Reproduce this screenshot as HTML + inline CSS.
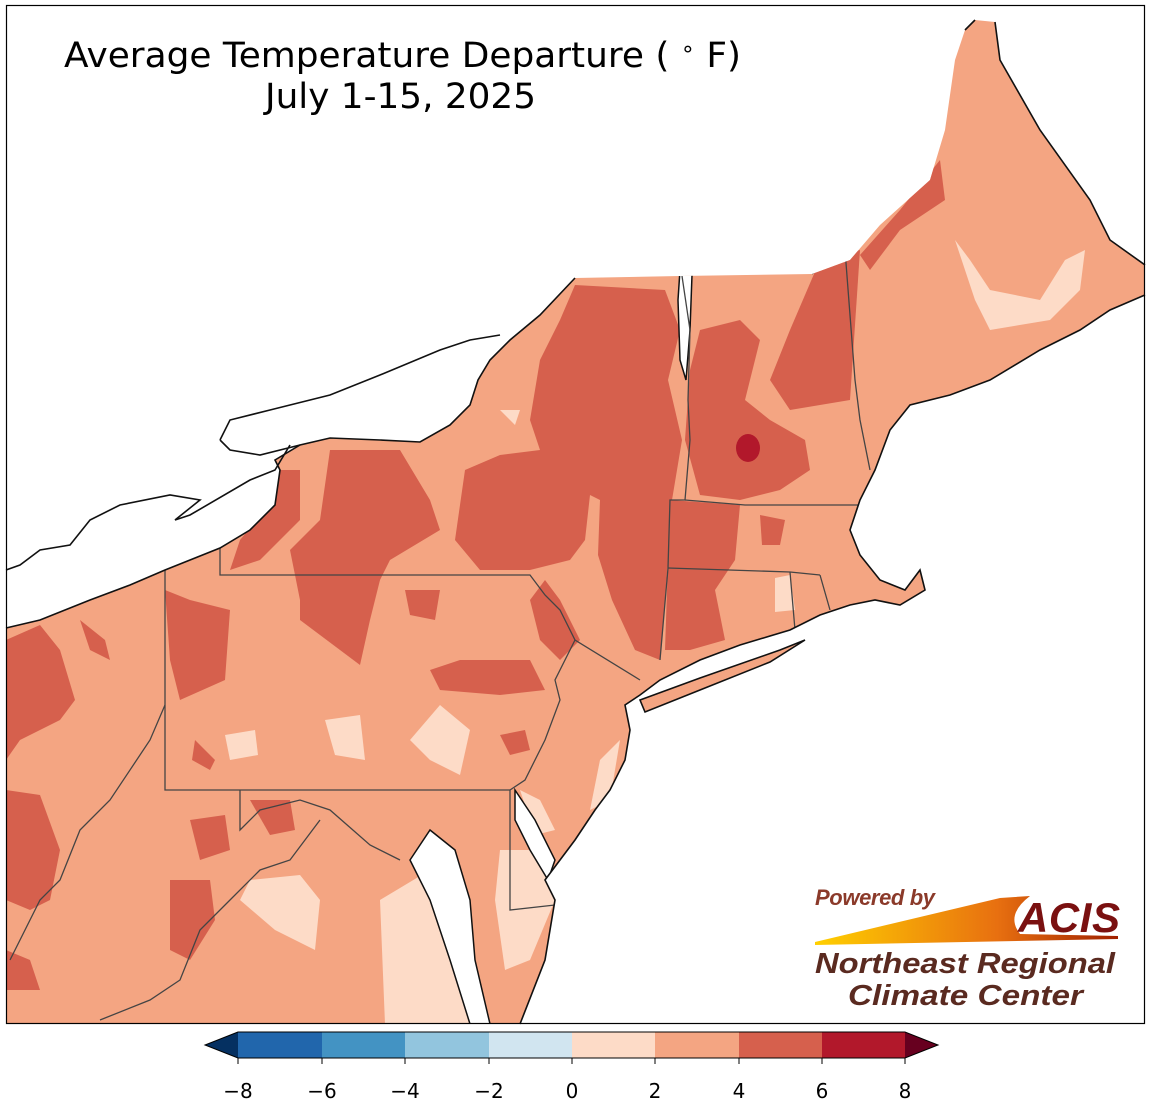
<!DOCTYPE html>
<html><head><meta charset="utf-8"><style>
body{margin:0;background:#fff;width:1151px;height:1111px;overflow:hidden}
svg{display:block}
</style></head><body>
<svg width="1151" height="1111" viewBox="0 0 1151 1111" xmlns="http://www.w3.org/2000/svg">
<defs>
<clipPath id="land"><path d="M6,628 L40,620 L90,600 L130,585 L165,570 L220,548 L250,530 L275,505 L280,470 L275,460 L300,445 L330,438 L380,440 L420,442 L450,425 L470,405 L478,380 L490,360 L510,340 L540,315 L575,278 L680,276 L812,274 L850,260 L880,225 L930,180 L945,130 L955,60 L965,30 L975,20 L995,22 L1000,60 L1040,130 L1090,200 L1110,240 L1145,265 L1145,295 L1110,310 L1080,330 L1040,350 L990,380 L950,395 L910,405 L890,430 L875,470 L860,500 L850,530 L860,555 L880,580 L905,590 L920,570 L925,590 L900,605 L875,600 L850,605 L820,615 L790,630 L740,645 L700,660 L660,680 L640,695 L625,705 L630,730 L625,760 L610,790 L595,810 L575,840 L560,860 L545,880 L555,900 L545,960 L520,1024 L6,1024 Z M640,700 L700,678 L780,650 L805,640 L770,662 L700,690 L645,712 Z"/></clipPath>
<linearGradient id="g" x1="0" x2="1"><stop offset="0" stop-color="#ffd000"/><stop offset="0.6" stop-color="#e87010"/><stop offset="1" stop-color="#a02000"/></linearGradient>
</defs>
<g clip-path="url(#land)">
<rect x="0" y="0" width="1151" height="1111" fill="#f4a582"/>
<g fill="#d6604d">
<path d="M575,285 L665,290 L680,330 L668,380 L682,440 L672,500 L668,560 L660,660 L635,650 L612,600 L598,555 L600,500 L590,495 L585,540 L570,560 L530,570 L480,570 L455,540 L465,470 L500,455 L540,450 L530,420 L540,360 L560,320 Z"/>
<path d="M700,330 L740,320 L760,340 L745,400 L770,420 L805,440 L810,470 L780,490 L740,500 L700,495 L685,440 L690,370 Z"/>
<path d="M790,330 L820,260 L860,250 L850,400 L790,410 L770,380 Z"/>
<path d="M860,255 L900,210 L940,160 L945,200 L900,230 L870,270 Z"/>
<path d="M670,500 L740,505 L735,560 L715,590 L725,640 L690,650 L665,650 L668,560 Z"/>
<path d="M330,450 L400,450 L430,500 L440,530 L390,560 L370,600 L330,610 L300,600 L290,550 L320,520 Z"/>
<path d="M270,470 L300,470 L300,520 L260,560 L230,570 L240,540 L265,510 Z"/>
<path d="M300,580 L380,580 L370,620 L360,665 L340,650 L300,620 Z"/>
<path d="M430,670 L460,660 L530,660 L545,690 L500,695 L440,690 Z"/>
<path d="M545,580 L560,600 L580,640 L560,660 L540,640 L530,600 Z"/>
<path d="M165,590 L190,600 L230,610 L225,680 L180,700 L170,660 Z"/>
<path d="M6,640 L40,625 L60,650 L75,700 L60,720 L20,740 L6,760 Z"/>
<path d="M80,620 L105,640 L110,660 L90,650 Z"/>
<path d="M6,790 L40,795 L60,850 L50,900 L30,910 L6,900 Z"/>
<path d="M190,820 L225,815 L230,850 L200,860 Z"/>
<path d="M250,800 L290,800 L295,830 L270,835 Z"/>
<path d="M170,880 L210,880 L215,920 L190,960 L170,950 Z"/>
<path d="M6,950 L30,960 L40,990 L6,990 Z"/>
<path d="M195,740 L215,760 L210,770 L192,760 Z"/>
<path d="M500,735 L525,730 L530,750 L510,755 Z"/>
<path d="M405,590 L440,590 L435,620 L410,615 Z"/>
<path d="M760,515 L785,520 L780,545 L762,545 Z"/>
</g>
<ellipse cx="748" cy="448" rx="12" ry="14" fill="#b2182b"/>
<g fill="#fddbc7">
<path d="M955,240 L970,260 L990,290 L1040,300 L1065,260 L1085,250 L1080,290 L1050,320 L990,330 L975,300 Z"/>
<path d="M380,900 L430,870 L440,900 L470,960 L480,1024 L385,1024 Z"/>
<path d="M500,850 L545,850 L555,900 L530,960 L505,970 L495,900 Z"/>
<path d="M250,880 L300,875 L320,900 L315,950 L275,930 L240,900 Z"/>
<path d="M325,720 L360,715 L365,760 L335,755 Z"/>
<path d="M410,740 L440,705 L470,730 L460,775 L430,760 Z"/>
<path d="M225,735 L255,730 L258,755 L230,760 Z"/>
<path d="M500,410 L520,410 L515,425 Z"/>
<path d="M600,760 L620,740 L610,800 L590,810 Z"/>
<path d="M775,578 L790,575 L795,610 L775,612 Z"/>
<path d="M520,790 L540,800 L555,830 L535,835 Z"/>
</g>
<g fill="#fff" stroke="#111" stroke-width="1.5">
<path d="M430,830 L455,850 L470,900 L475,960 L490,1024 L470,1024 L450,960 L430,900 L410,860 Z"/>
<path d="M515,790 L535,820 L555,860 L548,880 L530,850 L515,820 Z"/>
<path d="M680,270 L692,275 L690,330 L686,380 L680,360 L678,300 Z"/>
</g>
<g fill="none" stroke="#444" stroke-width="1.3">
<path d="M220,548 L220,575 L530,575 L545,595 L560,610 L575,640 L640,680"/>
<path d="M575,640 L555,680 L560,700 L545,740 L525,780 L510,790"/>
<path d="M165,565 L165,790 L510,790 L510,910 L555,905"/>
<path d="M165,705 L150,740 L110,800 L80,830 L60,880 L40,900 L10,960"/>
<path d="M240,790 L240,830 L260,810 L300,800 L330,810 L370,845 L400,860"/>
<path d="M320,820 L290,860 L260,870 L230,900 L200,930 L180,980 L150,1000 L100,1020"/>
<path d="M682,276 L690,330 L688,400 L690,440 L685,500 L670,500 L668,568 L660,660"/>
<path d="M685,500 L745,505 L860,505"/>
<path d="M668,568 L790,572 L820,575"/>
<path d="M790,572 L795,630 M820,575 L830,610"/>
<path d="M812,274 L845,250 L855,380 L860,420 L870,470"/>
</g>
</g>
<path d="M6,628 L40,620 L90,600 L130,585 L165,570 L220,548 L250,530 L275,505 L280,470 L275,460 L300,445 L330,438 L380,440 L420,442 L450,425 L470,405 L478,380 L490,360 L510,340 L540,315 L575,278 M995,22 L1000,60 L1040,130 L1090,200 L1110,240 L1145,265 M1145,295 L1110,310 L1080,330 L1040,350 L990,380 L950,395 L910,405 L890,430 L875,470 L860,500 L850,530 L860,555 L880,580 L905,590 L920,570 L925,590 L900,605 L875,600 L850,605 L820,615 L790,630 L740,645 L700,660 L660,680 L640,695 L625,705 L630,730 L625,760 L610,790 L595,810 L575,840 L560,860 L545,880 L555,900 L545,960 L520,1024 M640,700 L700,678 L780,650 L805,640 L770,662 L700,690 L645,712 Z" fill="none" stroke="#111" stroke-width="1.6"/>
<path d="M6,570 L20,565 L40,550 L70,545 L90,520 L120,505 L170,495 L200,500 L175,520 L190,515 L250,480 L275,470 L290,445 M220,440 L230,420 L270,410 L330,395 L380,375 L440,350 L470,340 L500,335 M300,445 L260,455 L230,450 L220,440" fill="none" stroke="#111" stroke-width="1.6"/>
<path d="M965,30 L975,20" stroke="#111" stroke-width="1.6"/>
<rect x="6.5" y="5.5" width="1138" height="1018" fill="none" stroke="#000" stroke-width="1.2"/>
<text x="64" y="67" font-family="DejaVu Sans, Liberation Sans, sans-serif" font-size="35" textLength="677" lengthAdjust="spacingAndGlyphs">Average Temperature Departure ( <tspan font-size="22" dy="-11">∘</tspan><tspan dy="11"> F)</tspan></text>
<text x="265" y="108" font-family="DejaVu Sans, Liberation Sans, sans-serif" font-size="35" textLength="271" lengthAdjust="spacingAndGlyphs">July 1-15, 2025</text>
<text x="815" y="905" font-family="Liberation Sans, sans-serif" font-size="22" font-weight="bold" font-style="italic" fill="#8b3a2a" textLength="120">Powered by</text>
<path d="M815,942 L1000,898 L1030,896 Q1005,915 1020,934 L1118,936 L1118,939 L815,945 Z" fill="url(#g)"/>
<text x="1018" y="932" font-family="Liberation Sans, sans-serif" font-size="42" font-weight="bold" font-style="italic" fill="#7a1010" textLength="102">ACIS</text>
<text x="815" y="973" font-family="Liberation Sans, sans-serif" font-size="29" font-weight="bold" font-style="italic" fill="#5a2a20" textLength="300" lengthAdjust="spacingAndGlyphs">Northeast Regional</text>
<text x="848" y="1005" font-family="Liberation Sans, sans-serif" font-size="29" font-weight="bold" font-style="italic" fill="#5a2a20" textLength="235" lengthAdjust="spacingAndGlyphs">Climate Center</text>
<g stroke="none">
<path d="M238,1032 L205,1045 L238,1058 Z" fill="#053061"/>
<rect x="238" y="1032" width="84" height="26" fill="#2166ac"/>
<rect x="322" y="1032" width="83" height="26" fill="#4393c3"/>
<rect x="405" y="1032" width="84" height="26" fill="#92c5de"/>
<rect x="489" y="1032" width="83" height="26" fill="#d1e5f0"/>
<rect x="572" y="1032" width="83" height="26" fill="#fddbc7"/>
<rect x="655" y="1032" width="84" height="26" fill="#f4a582"/>
<rect x="739" y="1032" width="83" height="26" fill="#d6604d"/>
<rect x="822" y="1032" width="83" height="26" fill="#b2182b"/>
<path d="M905,1032 L938,1045 L905,1058 Z" fill="#67001f"/>
</g>
<path d="M238,1032 L205,1045 L238,1058 L905,1058 L938,1045 L905,1032 Z" fill="none" stroke="#000" stroke-width="1"/>
<g stroke="#000" stroke-width="1"><path d="M238,1058v6M322,1058v6M405,1058v6M489,1058v6M572,1058v6M655,1058v6M739,1058v6M822,1058v6M905,1058v6"/></g>
<g font-family="DejaVu Sans, Liberation Sans, sans-serif" font-size="20" text-anchor="middle">
<text x="238" y="1098">−8</text><text x="322" y="1098">−6</text><text x="405" y="1098">−4</text><text x="489" y="1098">−2</text><text x="572" y="1098">0</text><text x="655" y="1098">2</text><text x="739" y="1098">4</text><text x="822" y="1098">6</text><text x="905" y="1098">8</text>
</g>
</svg>
</body></html>
